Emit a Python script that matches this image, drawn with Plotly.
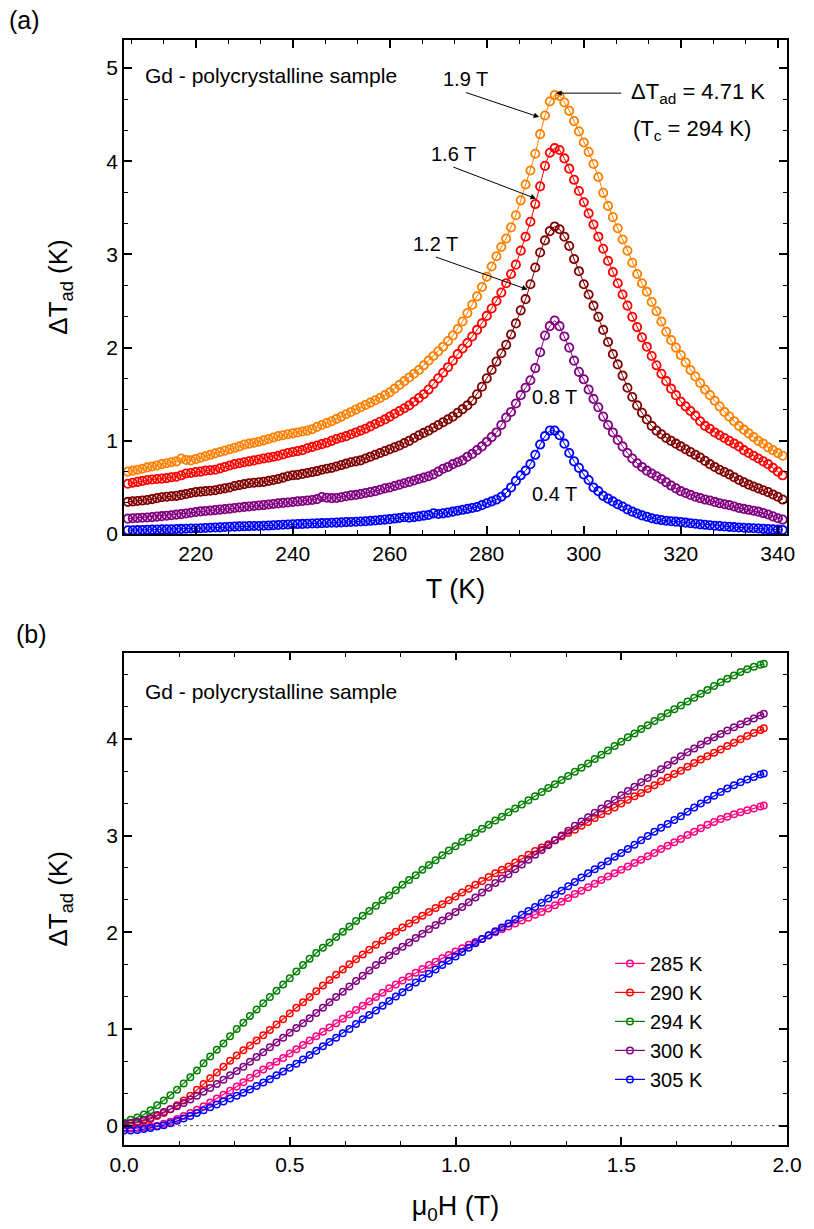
import plotly.graph_objects as go

FONT = "Liberation Sans, Arial, sans-serif"

# ---------------- Panel (a): dT_ad vs T at several fields ----------------
T = list(range(206, 342))

dT_19T = [0.67, 0.68, 0.69, 0.70, 0.715, 0.725, 0.735, 0.75, 0.76, 0.77,
          0.78, 0.81, 0.795, 0.79, 0.805, 0.82, 0.835, 0.85, 0.865, 0.88,
          0.895, 0.91, 0.925, 0.94, 0.96, 0.97, 0.98, 0.99, 1.005, 1.02,
          1.035, 1.05, 1.06, 1.07, 1.08, 1.09, 1.10, 1.11, 1.125, 1.15,
          1.17, 1.19, 1.21, 1.235, 1.26, 1.285, 1.31, 1.335, 1.36, 1.385,
          1.41, 1.435, 1.46, 1.49, 1.52, 1.56, 1.60, 1.64, 1.68, 1.72,
          1.76, 1.81, 1.86, 1.91, 1.96, 2.01, 2.07, 2.13, 2.20, 2.28,
          2.37, 2.46, 2.55, 2.65, 2.76, 2.87, 2.98, 3.08, 3.17, 3.29,
          3.42, 3.58, 3.75, 3.90, 4.08, 4.29, 4.49, 4.64, 4.71, 4.70,
          4.63, 4.54, 4.43, 4.32, 4.20, 4.10, 3.97, 3.83, 3.66, 3.52,
          3.40, 3.28, 3.16, 3.04, 2.91, 2.79, 2.69, 2.60, 2.49, 2.39,
          2.28, 2.17, 2.08, 2.00, 1.92, 1.84, 1.76, 1.69, 1.62, 1.55,
          1.49, 1.43, 1.37, 1.31, 1.26, 1.21, 1.16, 1.12, 1.08, 1.04,
          1.00, 0.97, 0.93, 0.90, 0.87, 0.84]

dT_16T = [0.54, 0.55, 0.56, 0.57, 0.58, 0.585, 0.59, 0.595, 0.60, 0.61,
          0.615, 0.63, 0.65, 0.655, 0.665, 0.67, 0.68, 0.685, 0.69, 0.705,
          0.72, 0.735, 0.75, 0.76, 0.77, 0.78, 0.79, 0.80, 0.81, 0.82,
          0.83, 0.84, 0.855, 0.87, 0.88, 0.89, 0.90, 0.92, 0.935, 0.95,
          0.965, 0.98, 1.00, 1.02, 1.035, 1.05, 1.07, 1.09, 1.11, 1.13,
          1.155, 1.18, 1.205, 1.23, 1.26, 1.29, 1.32, 1.35, 1.38, 1.42,
          1.46, 1.50, 1.55, 1.61, 1.67, 1.73, 1.79, 1.86, 1.93, 1.99,
          2.05, 2.12, 2.19, 2.26, 2.34, 2.42, 2.50, 2.59, 2.69, 2.79,
          2.89, 3.04, 3.19, 3.35, 3.54, 3.73, 3.95, 4.09, 4.14, 4.12,
          4.03, 3.92, 3.80, 3.68, 3.56, 3.44, 3.32, 3.19, 3.06, 2.93,
          2.81, 2.69, 2.57, 2.45, 2.33, 2.22, 2.11, 2.01, 1.91, 1.81,
          1.72, 1.64, 1.56, 1.49, 1.42, 1.37, 1.32, 1.27, 1.21, 1.16,
          1.13, 1.09, 1.06, 1.03, 1.00, 0.97, 0.94, 0.90, 0.87, 0.84,
          0.81, 0.78, 0.75, 0.71, 0.67, 0.63]

dT_12T = [0.345, 0.35, 0.355, 0.36, 0.365, 0.375, 0.385, 0.395, 0.40, 0.405,
          0.41, 0.42, 0.43, 0.44, 0.45, 0.455, 0.46, 0.465, 0.47, 0.48,
          0.49, 0.50, 0.515, 0.525, 0.535, 0.545, 0.55, 0.555, 0.56, 0.57,
          0.58, 0.59, 0.605, 0.62, 0.63, 0.635, 0.645, 0.655, 0.665, 0.675,
          0.69, 0.70, 0.71, 0.725, 0.74, 0.755, 0.77, 0.78, 0.79, 0.81,
          0.83, 0.85, 0.87, 0.89, 0.91, 0.93, 0.95, 0.975, 1.00, 1.03,
          1.06, 1.085, 1.11, 1.14, 1.17, 1.20, 1.23, 1.26, 1.30, 1.34,
          1.38, 1.43, 1.50, 1.58, 1.67, 1.76, 1.85, 1.94, 2.03, 2.14,
          2.26, 2.40, 2.52, 2.68, 2.86, 3.02, 3.15, 3.25, 3.30, 3.27,
          3.19, 3.09, 2.95, 2.82, 2.68, 2.57, 2.45, 2.33, 2.19, 2.06,
          1.93, 1.82, 1.70, 1.57, 1.47, 1.38, 1.30, 1.23, 1.16, 1.11,
          1.07, 1.03, 1.00, 0.97, 0.94, 0.91, 0.88, 0.85, 0.82, 0.785,
          0.75, 0.72, 0.69, 0.665, 0.64, 0.61, 0.58, 0.555, 0.53, 0.51,
          0.49, 0.47, 0.45, 0.425, 0.40, 0.37]

dT_08T = [0.165, 0.17, 0.172, 0.175, 0.178, 0.182, 0.187, 0.192, 0.197, 0.202,
          0.208, 0.214, 0.22, 0.228, 0.236, 0.243, 0.248, 0.252, 0.257, 0.262,
          0.267, 0.273, 0.279, 0.285, 0.291, 0.296, 0.301, 0.306, 0.311, 0.317,
          0.323, 0.329, 0.334, 0.339, 0.344, 0.35, 0.355, 0.36, 0.366, 0.375,
          0.398, 0.39, 0.385, 0.387, 0.395, 0.405, 0.415, 0.42, 0.43, 0.44,
          0.45, 0.46, 0.475, 0.49, 0.50, 0.515, 0.53, 0.545, 0.56, 0.575,
          0.59, 0.605, 0.62, 0.64, 0.67, 0.70, 0.72, 0.75, 0.77, 0.79,
          0.83, 0.86, 0.90, 0.94, 0.99, 1.04, 1.09, 1.17, 1.25, 1.31,
          1.40, 1.49, 1.57, 1.65, 1.78, 1.95, 2.13, 2.23, 2.29, 2.23,
          2.12, 2.00, 1.86, 1.74, 1.66, 1.55, 1.45, 1.36, 1.26, 1.17,
          1.09, 1.01, 0.94, 0.87, 0.81, 0.76, 0.72, 0.68, 0.65, 0.62,
          0.59, 0.555, 0.52, 0.49, 0.46, 0.44, 0.42, 0.40, 0.385, 0.37,
          0.36, 0.345, 0.33, 0.32, 0.31, 0.295, 0.28, 0.27, 0.26, 0.25,
          0.24, 0.225, 0.21, 0.19, 0.17, 0.155]

dT_04T = [0.04, 0.041, 0.042, 0.044, 0.045, 0.047, 0.048, 0.05, 0.051, 0.052,
          0.054, 0.055, 0.057, 0.059, 0.06, 0.062, 0.065, 0.067, 0.07, 0.072,
          0.075, 0.078, 0.08, 0.082, 0.083, 0.085, 0.086, 0.087, 0.089, 0.091,
          0.094, 0.097, 0.10, 0.103, 0.105, 0.107, 0.109, 0.111, 0.113, 0.115,
          0.117, 0.119, 0.121, 0.123, 0.125, 0.128, 0.13, 0.132, 0.135, 0.138,
          0.142, 0.146, 0.15, 0.155, 0.16, 0.166, 0.172, 0.18, 0.176, 0.182,
          0.19, 0.198, 0.205, 0.222, 0.215, 0.222, 0.23, 0.24, 0.25, 0.26,
          0.27, 0.28, 0.29, 0.31, 0.33, 0.35, 0.37, 0.40, 0.44, 0.50,
          0.57, 0.63, 0.68, 0.75, 0.85, 0.96, 1.05, 1.11, 1.11, 1.06,
          0.97, 0.87, 0.78, 0.71, 0.64, 0.58, 0.50, 0.46, 0.41, 0.38,
          0.35, 0.32, 0.295, 0.265, 0.24, 0.22, 0.20, 0.185, 0.17, 0.158,
          0.15, 0.143, 0.138, 0.133, 0.128, 0.122, 0.116, 0.11, 0.104, 0.099,
          0.094, 0.089, 0.085, 0.081, 0.077, 0.074, 0.071, 0.068, 0.065, 0.062,
          0.059, 0.056, 0.053, 0.05, 0.047, 0.044]

fields_a = ["1.9 T", "1.6 T", "1.2 T", "0.8 T", "0.4 T"]
series_a = [dT_19T, dT_16T, dT_12T, dT_08T, dT_04T]
colors_a = ["#FF8000", "#FF0000", "#800000", "#800080", "#0000FF"]

# ---------------- Panel (b): dT_ad vs mu0H at several temperatures ----------------
H = [round(0.02 * i, 2) for i in range(97)] + [1.93]

dT_285K = [-0.03, -0.03, -0.025, -0.02, -0.01, 0.00, 0.02, 0.04, 0.07, 0.10,
           0.13, 0.165, 0.20, 0.24, 0.28, 0.32, 0.36, 0.405, 0.45, 0.495,
           0.54, 0.58, 0.62, 0.66, 0.70, 0.745, 0.79, 0.835, 0.88, 0.925,
           0.97, 1.015, 1.06, 1.105, 1.15, 1.195, 1.24, 1.285, 1.33, 1.375,
           1.42, 1.46, 1.50, 1.54, 1.58, 1.62, 1.66, 1.695, 1.73, 1.765,
           1.80, 1.835, 1.87, 1.90, 1.93, 1.965, 2.00, 2.03, 2.06, 2.09,
           2.12, 2.15, 2.18, 2.21, 2.245, 2.28, 2.315, 2.355, 2.395, 2.43,
           2.465, 2.50, 2.54, 2.575, 2.61, 2.645, 2.68, 2.715, 2.75, 2.785,
           2.82, 2.86, 2.895, 2.93, 2.965, 3.005, 3.04, 3.075, 3.11, 3.14,
           3.17, 3.195, 3.22, 3.24, 3.26, 3.28, 3.30, 3.31]

dT_290K = [0.01, 0.02, 0.03, 0.05, 0.07, 0.10, 0.13, 0.17, 0.21, 0.26,
           0.31, 0.37, 0.43, 0.49, 0.55, 0.61, 0.67, 0.725, 0.78, 0.83,
           0.88, 0.935, 0.99, 1.045, 1.10, 1.16, 1.22, 1.275, 1.33, 1.39,
           1.45, 1.505, 1.56, 1.615, 1.67, 1.72, 1.77, 1.82, 1.87, 1.915,
           1.96, 2.005, 2.05, 2.09, 2.13, 2.17, 2.21, 2.25, 2.29, 2.33,
           2.37, 2.41, 2.45, 2.49, 2.53, 2.57, 2.61, 2.645, 2.68, 2.72,
           2.76, 2.80, 2.84, 2.875, 2.91, 2.95, 2.99, 3.025, 3.06, 3.10,
           3.14, 3.18, 3.22, 3.255, 3.29, 3.33, 3.37, 3.405, 3.44, 3.48,
           3.52, 3.56, 3.60, 3.635, 3.67, 3.71, 3.75, 3.785, 3.82, 3.855,
           3.89, 3.925, 3.96, 3.995, 4.03, 4.06, 4.09, 4.11]

dT_294K = [0.03, 0.06, 0.085, 0.115, 0.16, 0.21, 0.26, 0.315, 0.37, 0.435,
           0.50, 0.57, 0.645, 0.715, 0.785, 0.85, 0.925, 1.00, 1.065, 1.135,
           1.20, 1.265, 1.33, 1.395, 1.46, 1.525, 1.595, 1.66, 1.725, 1.785,
           1.84, 1.895, 1.95, 2.005, 2.06, 2.115, 2.17, 2.22, 2.275, 2.33,
           2.38, 2.435, 2.49, 2.54, 2.59, 2.645, 2.695, 2.745, 2.795, 2.845,
           2.89, 2.935, 2.98, 3.025, 3.07, 3.11, 3.155, 3.195, 3.24, 3.28,
           3.32, 3.365, 3.405, 3.45, 3.49, 3.53, 3.575, 3.615, 3.66, 3.70,
           3.745, 3.79, 3.835, 3.88, 3.925, 3.97, 4.015, 4.055, 4.10, 4.14,
           4.185, 4.225, 4.265, 4.305, 4.345, 4.385, 4.425, 4.465, 4.505, 4.545,
           4.585, 4.62, 4.655, 4.69, 4.72, 4.745, 4.765, 4.775]

dT_300K = [0.02, 0.03, 0.04, 0.06, 0.08, 0.11, 0.14, 0.17, 0.20, 0.235,
           0.27, 0.31, 0.35, 0.39, 0.43, 0.475, 0.52, 0.565, 0.61, 0.66,
           0.71, 0.76, 0.81, 0.86, 0.91, 0.96, 1.01, 1.06, 1.11, 1.165,
           1.22, 1.275, 1.33, 1.385, 1.44, 1.495, 1.55, 1.605, 1.66, 1.71,
           1.76, 1.805, 1.85, 1.895, 1.94, 1.985, 2.03, 2.075, 2.12, 2.165,
           2.21, 2.26, 2.31, 2.36, 2.41, 2.46, 2.51, 2.555, 2.60, 2.65,
           2.70, 2.75, 2.80, 2.85, 2.90, 2.95, 3.00, 3.05, 3.10, 3.145,
           3.19, 3.235, 3.28, 3.325, 3.37, 3.415, 3.46, 3.505, 3.55, 3.595,
           3.64, 3.685, 3.73, 3.775, 3.82, 3.86, 3.90, 3.94, 3.98, 4.015,
           4.05, 4.085, 4.12, 4.15, 4.18, 4.21, 4.24, 4.26]

dT_305K = [-0.05, -0.05, -0.045, -0.035, -0.025, -0.01, 0.005, 0.025, 0.05, 0.075,
           0.10, 0.13, 0.16, 0.19, 0.22, 0.25, 0.28, 0.31, 0.34, 0.375,
           0.41, 0.445, 0.48, 0.52, 0.56, 0.60, 0.64, 0.685, 0.73, 0.775,
           0.82, 0.865, 0.91, 0.955, 1.00, 1.05, 1.10, 1.145, 1.19, 1.24,
           1.29, 1.335, 1.38, 1.43, 1.48, 1.525, 1.57, 1.615, 1.66, 1.705,
           1.75, 1.795, 1.84, 1.885, 1.93, 1.97, 2.01, 2.05, 2.09, 2.135,
           2.18, 2.22, 2.26, 2.305, 2.35, 2.39, 2.43, 2.475, 2.52, 2.565,
           2.61, 2.65, 2.69, 2.735, 2.78, 2.82, 2.86, 2.905, 2.95, 2.995,
           3.04, 3.08, 3.12, 3.16, 3.20, 3.245, 3.29, 3.33, 3.37, 3.41,
           3.45, 3.485, 3.52, 3.55, 3.58, 3.605, 3.63, 3.64]

temps_b = ["285 K", "290 K", "294 K", "300 K", "305 K"]
series_b = [dT_285K, dT_290K, dT_294K, dT_300K, dT_305K]
colors_b = ["#FF0080", "#FF0000", "#008000", "#800080", "#0000FF"]

fig = go.Figure()

for name, ys, c in zip(fields_a, series_a, colors_a):
    fig.add_trace(go.Scatter(
        x=T, y=ys, mode="lines+markers", name=name, showlegend=False,
        line=dict(color=c, width=1),
        marker=dict(symbol="circle-open", size=8.3, color=c, line=dict(width=1.8, color=c)),
        xaxis="x", yaxis="y"))

for name, ys, c in zip(temps_b, series_b, colors_b):
    fig.add_trace(go.Scatter(
        x=H, y=ys, mode="lines+markers", name=name, showlegend=True,
        line=dict(color=c, width=1.2),
        marker=dict(symbol="circle-open", size=6.5, color=c, line=dict(width=1.5, color=c)),
        xaxis="x2", yaxis="y2"))

tickfont = dict(family=FONT, size=21, color="black")
xtitlefont = dict(family=FONT, size=27, color="black")
ytitlefont = dict(family=FONT, size=26, color="black")


def axis(**kw):
    d = dict(showline=True, linecolor="black", linewidth=1.5, mirror="ticks",
             ticks="inside", ticklen=8, tickwidth=1.5, tickcolor="black",
             showgrid=False, zeroline=False, tickfont=tickfont)
    d.update(kw)
    return d


def minor(dt):
    return dict(ticks="inside", ticklen=4.5, tickwidth=1.2, tickcolor="black",
                dtick=dt, showgrid=False)


fig.update_layout(
    width=814, height=1229,
    margin=dict(l=124, r=19, t=40, b=84),
    paper_bgcolor="white", plot_bgcolor="white",
    font=dict(family=FONT, size=21, color="black"),
    xaxis=axis(domain=[0, 1], anchor="y", range=[205.2, 341.9], tick0=0, dtick=20,
               minor=minor(20 / 3),
               title=dict(text="T (K)", font=xtitlefont, standoff=15)),
    yaxis=axis(domain=[0.5529, 1], anchor="x", range=[0, 5.3], tick0=0, dtick=1,
               minor=minor(1 / 3),
               title=dict(text="ΔT<sub>ad</sub> (K)", font=ytitlefont, standoff=31)),
    xaxis2=axis(domain=[0, 1], anchor="y2", range=[0, 2], tick0=0, dtick=0.5,
                tickformat=".1f", minor=minor(1 / 6),
                title=dict(text="μ<sub>0</sub>H (T)", font=xtitlefont, standoff=21)),
    yaxis2=axis(domain=[0, 0.4455], anchor="x2", range=[-0.2, 4.89], tick0=0, dtick=1,
                minor=minor(1 / 3),
                title=dict(text="ΔT<sub>ad</sub> (K)", font=ytitlefont, standoff=31)),
    legend=dict(x=0.733, y=0.182, xanchor="left", yanchor="top",
                bgcolor="rgba(0,0,0,0)", borderwidth=0,
                font=dict(family=FONT, size=20, color="black"),
                itemwidth=30, tracegroupgap=0),
    shapes=[dict(type="line", xref="x2 domain", yref="y2", x0=0, x1=1, y0=0, y1=0,
                 line=dict(color="#555555", width=1, dash="dot"), layer="below")],
)


def txt(s, x, y, xref, yref, size=20, xanchor="center"):
    return dict(text=s, x=x, y=y, xref=xref, yref=yref, showarrow=False, xanchor=xanchor,
                yanchor="middle", font=dict(family=FONT, size=size, color="black"))


def label_arrow(s, tip_x, tip_y, tail_x, tail_y, xanchor, yanchor, size=20, pad=1):
    # text box anchored at the arrow tail, arrow drawn from tail to the tip
    return dict(text=s, x=tip_x, y=tip_y, ax=tail_x, ay=tail_y,
                xref="x", yref="y", axref="x", ayref="y",
                xanchor=xanchor, yanchor=yanchor, borderpad=pad,
                showarrow=True, arrowhead=2, arrowsize=1.1, arrowwidth=1, arrowcolor="black",
                standoff=0, startstandoff=0,
                font=dict(family=FONT, size=size, color="black"))


ann = [
    txt("(a)", -0.150, 1.018, "paper", "paper", size=25),
    txt("(b)", -0.140, 0.462, "paper", "paper", size=25),
    txt("Gd - polycrystalline sample", 209.1, 4.92, "x", "y", size=21, xanchor="left"),
    txt("Gd - polycrystalline sample", 0.058, 4.49, "x2", "y2", size=21, xanchor="left"),
    txt("0.8 T", 293.9, 1.468, "x", "y"),
    txt("0.4 T", 293.9, 0.43, "x", "y"),
    txt("(T<sub>c</sub> = 294 K)", 309.7, 4.33, "x", "y", size=22, xanchor="left"),
    label_arrow("1.9 T", 290.8, 4.473, 275.7, 4.737, "center", "bottom"),
    label_arrow("1.6 T", 290.15, 3.598, 273.1, 3.937, "center", "bottom"),
    label_arrow("1.2 T", 288.4, 2.623, 269.5, 2.972, "center", "bottom"),
    label_arrow("ΔT<sub>ad</sub> = 4.71 K", 294.3, 4.73, 307.7, 4.73, "left", "middle",
                size=22, pad=9),
]

fig.update_layout(annotations=ann)

fig.write_html("out.html")
